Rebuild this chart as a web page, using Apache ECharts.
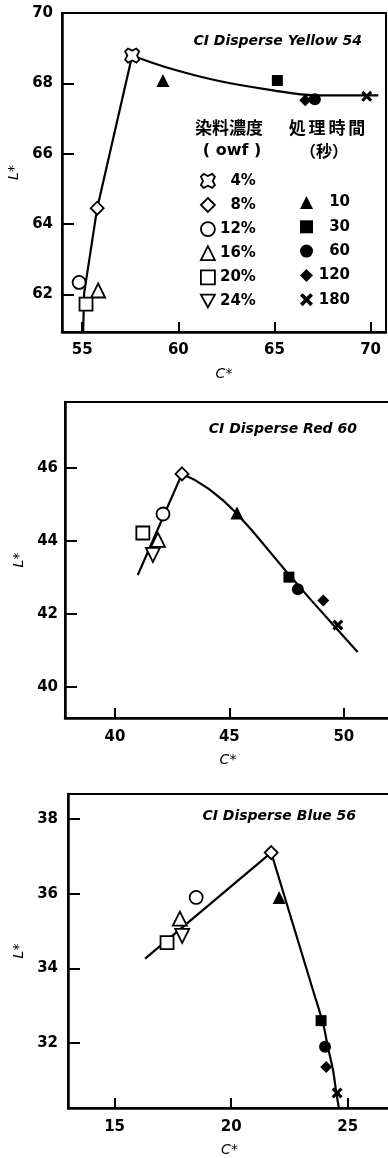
<!DOCTYPE html>
<html><head><meta charset="utf-8">
<script src="https://cdn.jsdelivr.net/npm/echarts@6/dist/echarts.min.js"></script>
<style>html,body{margin:0;padding:0;background:#fff}#c{width:388px;height:1158px}</style>
</head><body><div id="c"></div>
<script>
// ---- data ----
const concNames = ['4%', '8%', '12%', '16%', '20%', '24%'];
const timeNames = ['10', '30', '60', '120', '180'];
const panelTitles = ['CI Disperse Yellow 54', 'CI Disperse Red 60', 'CI Disperse Blue 56'];
// [C*, L*] per dye concentration (null = not plotted)
const yellowConc = [[57.6, 68.79], [55.78, 64.45], [54.84, 62.34], [55.83, 62.11], [55.2, 61.72], null];
const yellowTime = [[59.2, 68.08], [65.15, 68.08], [67.1, 67.55], [66.6, 67.52], [69.8, 67.63]];
const yellowRise = [[55.05, 60.93], [55.1, 62.03], [55.78, 64.45], [57.6, 68.79]];
const yellowFall = [[57.6, 68.79], [59.4, 68.45], [62.0, 68.08], [64.6, 67.83], [67.2, 67.66], [70.4, 67.66]];
const redConc = [null, [42.93, 45.84], [42.1, 44.74], [41.88, 44.03], [41.22, 44.22], [41.66, 43.62]];
const redTime = [[45.33, 44.77], [47.6, 43.01], [47.99, 42.68], [49.1, 42.37], [49.74, 41.7]];
const redRise = [[41.0, 43.07], [42.93, 45.84]];
const redFall = [[42.93, 45.84], [43.5, 45.67], [44.1, 45.43], [44.7, 45.13], [45.33, 44.75], [46.0, 44.28],
                 [47.6, 43.08], [48.6, 42.36], [49.6, 41.66], [50.6, 40.96]];
const blueConc = [null, [21.72, 37.1], [18.5, 35.9], [17.8, 35.33], [17.25, 34.69], [17.9, 34.87]];
const blueTime = [[22.06, 35.9], [23.86, 32.6], [24.03, 31.9], [24.08, 31.36], [24.55, 30.66]];
const blueRise = [[16.31, 34.26], [21.72, 37.1]];
const blueFall = [[21.72, 37.1], [23.52, 33.4], [23.95, 32.51], [24.16, 31.87], [24.38, 31.25], [24.5, 30.72], [24.63, 30.24]];
// tick labels
const yellowXTicks = [55, 60, 65, 70];
const yellowYTicks = [62, 64, 66, 68, 70];
const redXTicks = [40, 45, 50];
const redYTicks = [40, 42, 44, 46];
const blueXTicks = [15, 20, 25];
const blueYTicks = [32, 34, 36, 38];

// ---- styling ----
const STAR = 'path://M-1,-0.6 L-0.6,-1 L0,-0.7 L0.6,-1 L1,-0.6 L0.7,0 L1,0.6 L0.6,1 L0,0.7 L-0.6,1 L-1,0.6 L-0.7,0 Z';
const TRI_DOWN = 'path://M-1,-0.9 L1,-0.9 L0,0.9 Z';
const XMARK = 'path://M-1,-0.6 L-0.6,-1 L0,-0.4 L0.6,-1 L1,-0.6 L0.4,0 L1,0.6 L0.6,1 L0,0.4 L-0.6,1 L-1,0.6 L-0.4,0 Z';
const concSymbols = [STAR, 'diamond', 'circle', 'triangle', 'rect', TRI_DOWN];
const concSizes = [14, 13, 13, 14, 13, 14];
const timeSymbols = ['triangle', 'rect', 'circle', 'diamond', XMARK];
const timeSizes = [13, 11, 12, 12, 11];
const FONT = 'DejaVu Sans';
const CJK = 'Noto Sans CJK JP';

const panels = [
  {conc: yellowConc, time: yellowTime, rise: yellowRise, fall: yellowFall, xt: yellowXTicks, yt: yellowYTicks,
   grid: {left: 62, top: 13, width: 324, height: 319}, xr: [53.95, 70.8], yr: [60.93, 70],
   xGap: 35, yGap: 40, xm: 11, ym: 9, smooth: 0.4, titleTop: 34, titleRight: 26},
  {conc: redConc, time: redTime, rise: redRise, fall: redFall, xt: redXTicks, yt: redYTicks,
   grid: {left: 65, top: 402, width: 326, height: 316}, xr: [37.82, 52.06], yr: [39.15, 47.81],
   xGap: 35, yGap: 26, xm: 12, ym: 7, smooth: false, titleTop: 422, titleRight: 31},
  {conc: blueConc, time: blueTime, rise: blueRise, fall: blueFall, xt: blueXTicks, yt: blueYTicks,
   grid: {left: 68, top: 794, width: 323, height: 314}, xr: [13, 26.86], yr: [30.26, 38.67],
   xGap: 35, yGap: 38, xm: 12, ym: 10, smooth: 0.25, titleTop: 809, titleRight: 32}
];

const grids = [], xAxes = [], yAxes = [], series = [], titles = [];
panels.forEach((p, i) => {
  grids.push(Object.assign({show: true, borderColor: '#000', borderWidth: 2, outerBoundsMode: 'none', containLabel: false}, p.grid));
  const labelStyle = {fontFamily: FONT, fontWeight: 'bold', fontSize: 15, color: '#000'};
  xAxes.push({
    type: 'value', gridIndex: i, min: p.xr[0], max: p.xr[1],
    name: 'C*', nameLocation: 'middle', nameGap: p.xGap,
    nameTextStyle: {fontFamily: FONT, fontStyle: 'italic', fontSize: 14, color: '#000'},
    axisLine: {onZero: false, lineStyle: {color: '#000', width: 2.5}},
    axisTick: {inside: true, length: 10, lineStyle: {color: '#000', width: 2}, customValues: p.xt},
    axisLabel: Object.assign({margin: p.xm, customValues: p.xt}, labelStyle),
    splitLine: {show: false}
  });
  yAxes.push({
    type: 'value', gridIndex: i, min: p.yr[0], max: p.yr[1],
    name: 'L*', nameLocation: 'middle', nameGap: p.yGap,
    nameTextStyle: {fontFamily: FONT, fontStyle: 'italic', fontSize: 14, color: '#000'},
    axisLine: {onZero: false, lineStyle: {color: '#000', width: 2.5}},
    axisTick: {inside: true, length: 12, lineStyle: {color: '#000', width: 2}, customValues: p.yt},
    axisLabel: Object.assign({margin: p.ym, customValues: p.yt}, labelStyle),
    splitLine: {show: false}
  });
  titles.push({
    text: panelTitles[i], right: p.titleRight, top: p.titleTop, padding: 0,
    textStyle: {fontFamily: FONT, fontStyle: 'italic', fontWeight: 'bold', fontSize: 14, color: '#000'}
  });
  series.push({type: 'line', name: 'fit', xAxisIndex: i, yAxisIndex: i, data: p.rise, showSymbol: false,
    lineStyle: {color: '#000', width: 2.2}, silent: true, z: 1});
  series.push({type: 'line', name: 'fit', xAxisIndex: i, yAxisIndex: i, data: p.fall, showSymbol: false,
    smooth: p.smooth, lineStyle: {color: '#000', width: 2.2}, silent: true, z: 1});
  p.conc.forEach((pt, k) => {
    if (!pt) return;
    series.push({type: 'scatter', name: concNames[k], xAxisIndex: i, yAxisIndex: i, data: [pt],
      symbol: concSymbols[k], symbolSize: concSizes[k], z: 3,
      itemStyle: {color: '#fff', borderColor: '#000', borderWidth: 1.8, opacity: 1}});
  });
  p.time.forEach((pt, k) => {
    series.push({type: 'scatter', name: timeNames[k], xAxisIndex: i, yAxisIndex: i, data: [pt],
      symbol: timeSymbols[k], symbolSize: timeSizes[k], z: 4,
      itemStyle: {color: '#000', borderColor: '#000', borderWidth: 0, opacity: 1}});
  });
});

const legendText = (w) => ({rich: {r: {width: w, align: 'right', fontFamily: FONT, fontWeight: 'bold', fontSize: 15, color: '#000'}}});
const legends = [
  {orient: 'vertical', left: 200, top: 173, itemWidth: 14, itemHeight: 14, itemGap: 8.3, padding: 0,
   selectedMode: false, formatter: '{r|{name}}', textStyle: legendText(36),
   data: concNames.map((n, k) => ({name: n, icon: concSymbols[k],
     itemStyle: {color: '#fff', borderColor: '#000', borderWidth: 1.8}}))},
  {orient: 'vertical', left: 300, top: 195, itemWidth: 13, itemHeight: 13, itemGap: 9.3, padding: 0,
   selectedMode: false, formatter: '{r|{name}}', textStyle: legendText(32),
   data: timeNames.map((n, k) => ({name: n, icon: timeSymbols[k],
     itemStyle: {color: '#000', borderColor: '#000', borderWidth: 0}}))}
];

const hdr = (text, x, y, size, family) => ({type: 'text', x: x, y: y, silent: true,
  style: {text: text, fontSize: size, fontWeight: 'bold', fontFamily: family, fill: '#000', align: 'center', verticalAlign: 'middle'}});

const chart = echarts.init(document.getElementById('c'), null, {renderer: 'canvas'});
chart.setOption({
  backgroundColor: '#fff',
  animation: false,
  title: titles,
  grid: grids,
  xAxis: xAxes,
  yAxis: yAxes,
  legend: legends,
  graphic: [
    hdr('染料濃度', 229, 128, 17, CJK),
    hdr('処\u2006理\u2006時\u2006間', 327, 128, 17, CJK),
    hdr('( owf )', 232, 151, 16, FONT),
    hdr('（秒）', 324, 151, 16, CJK)
  ],
  series: series
});
</script></body></html>
